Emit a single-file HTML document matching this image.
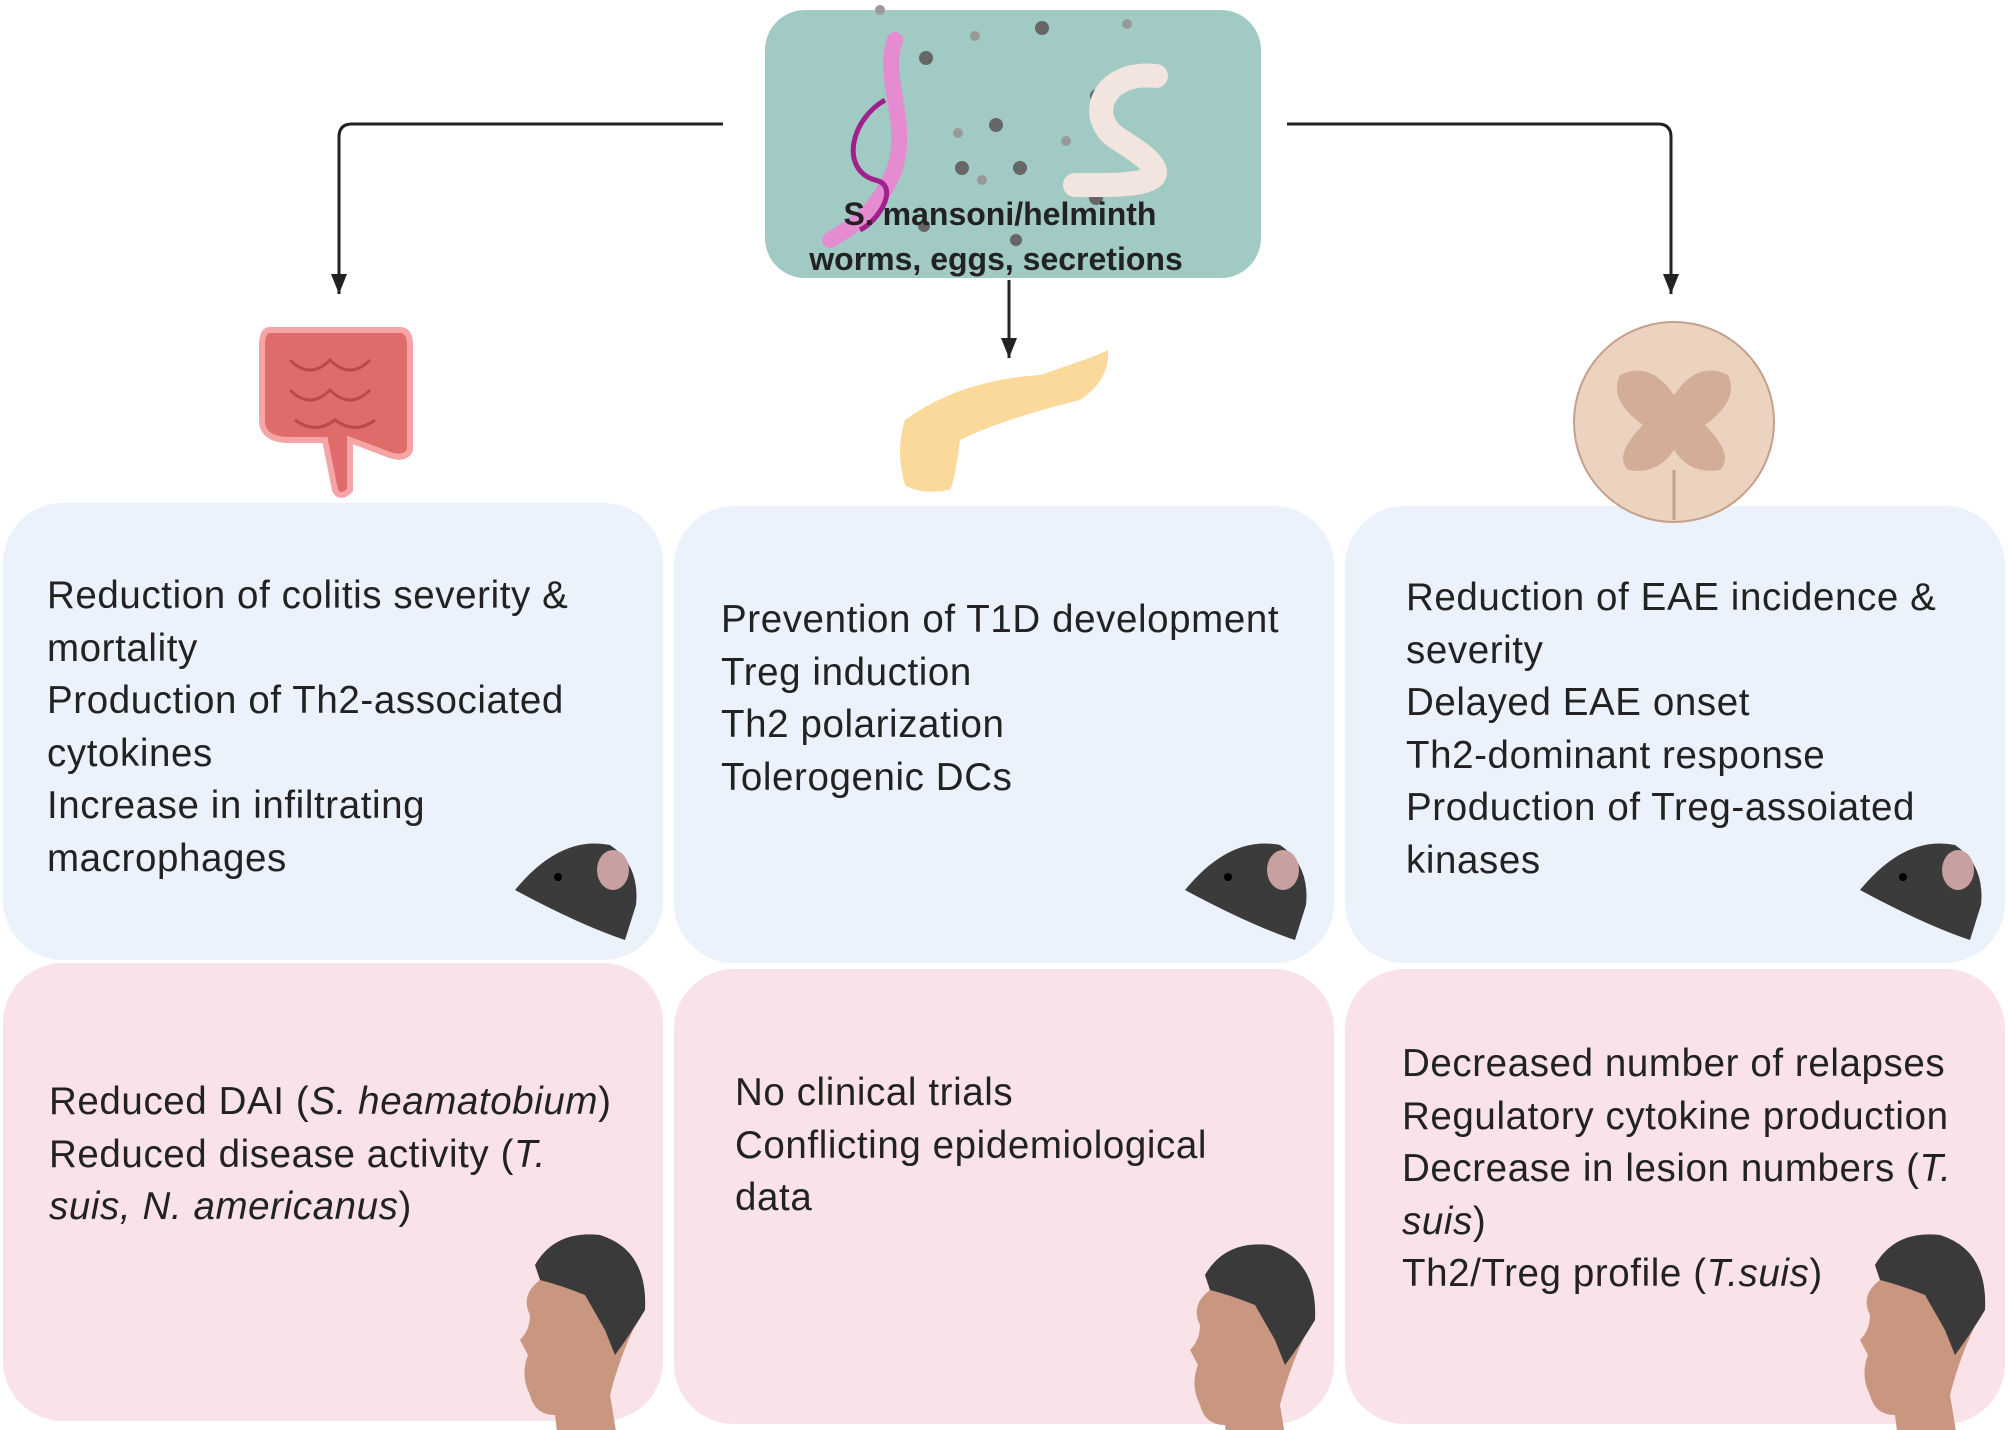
<!DOCTYPE html>
<html><head><meta charset="utf-8"><style>
body{margin:0;width:2008px;height:1430px;background:#fff;position:relative;overflow:hidden;font-family:"Liberation Sans",sans-serif;}
.box{position:absolute;border-radius:60px;}
.blue{background:#ebf2fb;}
.pink{background:#f9e2e8;}
.t{position:absolute;font-size:38.5px;line-height:52.5px;color:#222;letter-spacing:0.6px;white-space:nowrap}
svg{position:absolute;left:0;top:0}
</style></head><body>
<div class="box blue" style="left:3px;top:503px;width:660px;height:457px"></div>
<div class="box blue" style="left:674px;top:506px;width:660px;height:457px"></div>
<div class="box blue" style="left:1345px;top:506px;width:660px;height:457px"></div>
<div class="box pink" style="left:3px;top:963px;width:660px;height:458px"></div>
<div class="box pink" style="left:674px;top:969px;width:660px;height:455px"></div>
<div class="box pink" style="left:1345px;top:969px;width:660px;height:455px"></div>
<div class="box" style="left:765px;top:10px;width:496px;height:268px;background:#a2cac5;border-radius:40px"></div>

<svg width="2008" height="1430">
<defs><marker id="a" markerUnits="userSpaceOnUse" markerWidth="22" markerHeight="22" refX="20" refY="10" orient="auto"><path d="M0,2 L20,10 L0,18 z" fill="#222"/></marker></defs>
<g stroke="#222" stroke-width="3" fill="none">
<path d="M723,124 H352 Q339,124 339,137 V294" marker-end="url(#a)"/>
<path d="M1287,124 H1658 Q1671,124 1671,137 V294" marker-end="url(#a)"/>
<path d="M1009,280 V358" marker-end="url(#a)"/>
</g>
<g fill="#666">
<circle cx="926" cy="58" r="7"/><circle cx="1042" cy="28" r="7"/><circle cx="996" cy="125" r="7"/><circle cx="1097" cy="96" r="7"/>
<circle cx="1020" cy="168" r="7"/><circle cx="962" cy="168" r="7"/><circle cx="1096" cy="198" r="7"/><circle cx="1016" cy="240" r="6"/><circle cx="924" cy="226" r="6"/>
</g>
<g fill="#999"><circle cx="975" cy="36" r="5"/><circle cx="1127" cy="24" r="5"/><circle cx="958" cy="133" r="5"/><circle cx="1066" cy="141" r="5"/><circle cx="982" cy="180" r="5"/><circle cx="880" cy="10" r="5"/></g>
<path d="M895,40 C880,80 915,130 890,180 C870,220 845,230 830,240" stroke="#e58bcf" stroke-width="16" fill="none" stroke-linecap="round"/>
<path d="M885,100 C850,120 840,170 875,180 C900,185 880,220 860,230" stroke="#a0208c" stroke-width="5" fill="none"/>
<path d="M1156,76 C1100,70 1085,120 1120,140 C1160,165 1180,185 1100,185 L1075,185" stroke="#f2e4df" stroke-width="24" fill="none" stroke-linecap="round"/>
<g fill="#e06b6b" stroke="#f5a5a5" stroke-width="6">
<path d="M270,330 H400 Q410,330 410,345 V450 Q405,460 390,455 L350,440 V490 Q340,500 335,490 L325,440 H290 Q262,440 262,420 V345 Q262,330 270,330 z"/>
</g>
<g stroke="#b94a4a" stroke-width="3" fill="none"><path d="M290,360 q20,20 40,0 q20,20 40,0 M290,390 q20,20 40,0 q20,20 40,0 M295,420 q20,15 40,0 q20,15 40,0"/></g>
<path d="M905,420 Q960,380 1040,375 Q1100,355 1108,350 Q1110,380 1080,400 Q1000,420 960,440 Q955,480 950,490 Q920,495 905,485 Q895,450 905,420z" fill="#fbd99a"/>
<circle cx="1674" cy="422" r="100" fill="#ecd3c0" stroke="#c49f8b" stroke-width="2"/>
<path d="M1620,375 Q1650,360 1674,395 Q1698,360 1728,375 Q1740,400 1705,425 Q1735,455 1720,470 Q1690,475 1674,450 Q1658,475 1628,470 Q1613,455 1643,425 Q1608,400 1620,375z" fill="#d3ad97"/>
<path d="M1674,470 V520" stroke="#c49f8b" stroke-width="3"/>
<g id="m">
<path d="M515,890 Q560,835 610,845 Q640,865 636,905 L625,940 Q580,925 515,890z" fill="#3b3b3b"/>
<ellipse cx="613" cy="870" rx="16" ry="20" fill="#c9a0a0"/>
<circle cx="558" cy="877" r="4" fill="#000"/>
</g>
<use href="#m" x="670" y="0"/>
<use href="#m" x="1345" y="0"/>
<g id="h" transform="translate(0,55)">
<path d="M530,1260 Q520,1240 540,1225 L535,1210 Q555,1180 600,1185 Q645,1200 640,1260 Q620,1300 610,1340 L620,1400 L560,1400 L555,1360 Q535,1360 530,1340 Q520,1320 528,1300 L520,1285 Q530,1275 530,1260z" fill="#c9967f"/>
<path d="M535,1210 Q555,1175 600,1180 Q648,1195 645,1255 Q630,1280 615,1300 L605,1275 L585,1240 Q560,1230 540,1225z" fill="#3a3a3a"/>
</g>
<use href="#h" x="670" y="10"/>
<use href="#h" x="1340" y="0"/>
<text x="1000" y="225" font-size="32" font-weight="bold" text-anchor="middle" fill="#222" font-family="Liberation Sans, sans-serif">S. mansoni/helminth</text>
<text x="996" y="270" font-size="32" font-weight="bold" text-anchor="middle" fill="#222" font-family="Liberation Sans, sans-serif">worms, eggs, secretions</text>
</svg>

<div class="t" style="left:47px;top:570px">Reduction of colitis severity &amp;<br>mortality<br>Production of Th2-associated<br>cytokines<br>Increase in infiltrating<br>macrophages</div>
<div class="t" style="left:721px;top:594px">Prevention of T1D development<br>Treg induction<br>Th2 polarization<br>Tolerogenic DCs</div>
<div class="t" style="left:1406px;top:572px">Reduction of EAE incidence &amp;<br>severity<br>Delayed EAE onset<br>Th2-dominant response<br>Production of Treg-assoiated<br>kinases</div>
<div class="t" style="left:49px;top:1076px">Reduced DAI (<i>S. heamatobium</i>)<br>Reduced disease activity (<i>T.</i><br><i>suis, N. americanus</i>)</div>
<div class="t" style="left:735px;top:1067px">No clinical trials<br>Conflicting epidemiological<br>data</div>
<div class="t" style="left:1402px;top:1038px">Decreased number of relapses<br>Regulatory cytokine production<br>Decrease in lesion numbers (<i>T.</i><br><i>suis</i>)<br>Th2/Treg profile (<i>T.suis</i>)</div>
</body></html>
